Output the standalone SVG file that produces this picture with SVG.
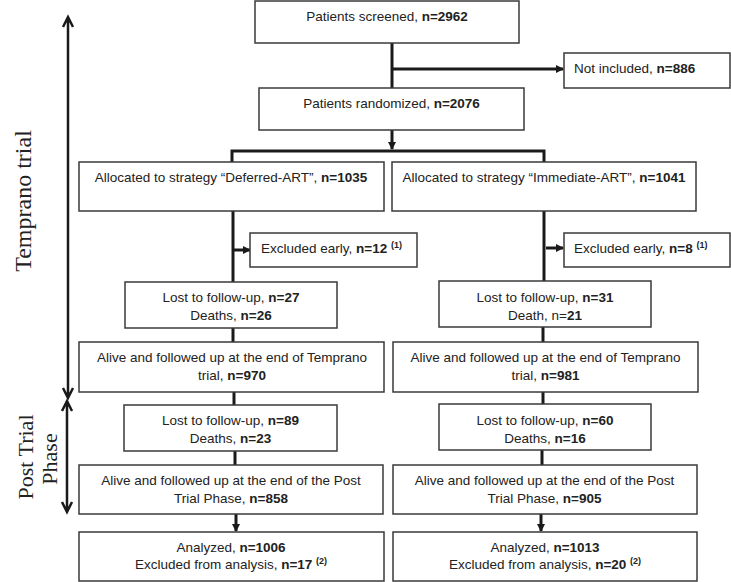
<svg xmlns="http://www.w3.org/2000/svg" width="731" height="582" viewBox="0 0 731 582">
<style>
.box{fill:#fff;stroke:#3a3a3a;stroke-width:1.5}
.t{font-family:"Liberation Sans",Arial,sans-serif;font-size:13.5px;fill:#222}
.c{text-anchor:middle}
.b{font-weight:bold}
.sup{font-size:9px;font-weight:bold}
.lbl{font-family:"Liberation Serif","Times New Roman",serif;fill:#222;text-anchor:middle}
.ln{fill:none;stroke:#1a1a1a;stroke-width:3}
.ax{fill:none;stroke:#1a1a1a;stroke-width:2.5}
</style>
<defs>
<marker id="ah" viewBox="0 0 8 8" refX="7" refY="4" markerWidth="8" markerHeight="8" markerUnits="userSpaceOnUse" orient="auto">
<path d="M0,0 L8,4 L0,8 z" fill="#1a1a1a"/>
</marker>
</defs>

<g id="axis-labels">
<text class="lbl" font-size="24" transform="translate(31,201) rotate(-90)">Temprano trial</text>
<text class="lbl" font-size="22" transform="translate(33,457) rotate(-90)">Post Trial</text>
<text class="lbl" font-size="22" transform="translate(57,459) rotate(-90)">Phase</text>
<path class="ax" d="M68,18 V397 M63,27 L68,17 L73,27 M63,388 L68,398 L73,388"/>
<path class="ax" d="M67,402 V511 M62,411 L67,401 L72,411 M62,502 L67,512 L72,502"/>
</g>

<g id="connectors">
<path class="ln" d="M392,43 V88"/>
<path class="ln" d="M392,69 H563" marker-end="url(#ah)"/>
<path class="ln" d="M392,130 V149" marker-end="url(#ah)"/>
<path class="ln" d="M232,162 V151 H544 V162"/>
<path class="ln" d="M233,211 V282"/>
<path class="ln" d="M233,250 H250" marker-end="url(#ah)"/>
<path class="ln" d="M544,211 V281"/>
<path class="ln" d="M546,248 H563" marker-end="url(#ah)"/>
<path class="ln" d="M233,328 V342"/>
<path class="ln" d="M543,327 V342"/>
<path class="ln" d="M234,392 V405"/>
<path class="ln" d="M543,392 V404"/>
<path class="ln" d="M235,451 V465"/>
<path class="ln" d="M542,450 V465"/>
<path class="ln" d="M236,514 V531" marker-end="url(#ah)"/>
<path class="ln" d="M541,514 V531" marker-end="url(#ah)"/>
</g>

<g id="screened">
<rect class="box" x="255" y="1" width="264" height="42"/>
<text class="t c" x="387" y="20.5">Patients screened, <tspan class="b">n=2962</tspan></text>
</g>
<g id="not-included">
<rect class="box" x="564" y="53" width="166" height="35"/>
<text class="t" x="574" y="72.5">Not included, <tspan class="b">n=886</tspan></text>
</g>
<g id="randomized">
<rect class="box" x="259" y="88" width="265" height="42"/>
<text class="t c" x="391.5" y="108">Patients randomized, <tspan class="b">n=2076</tspan></text>
</g>
<g id="deferred">
<rect class="box" x="79" y="162" width="305" height="49"/>
<text class="t c" x="231" y="181.5">Allocated to strategy “Deferred-ART”, <tspan class="b">n=1035</tspan></text>
</g>
<g id="immediate">
<rect class="box" x="392" y="162" width="304" height="49"/>
<text class="t c" x="544" y="181.5">Allocated to strategy “Immediate-ART”, <tspan class="b">n=1041</tspan></text>
</g>
<g id="excluded-left">
<rect class="box" x="250" y="233" width="167" height="34"/>
<text class="t" x="261" y="253">Excluded early, <tspan class="b">n=12</tspan> <tspan class="sup" dy="-5">(1)</tspan></text>
</g>
<g id="excluded-right">
<rect class="box" x="564" y="233" width="166" height="34"/>
<text class="t" x="574" y="252.5">Excluded early, <tspan class="b">n=8</tspan> <tspan class="sup" dy="-5">(1)</tspan></text>
</g>
<g id="lost-left">
<rect class="box" x="125" y="282" width="212" height="46"/>
<text class="t c" x="231" y="301.5">Lost to follow-up, <tspan class="b">n=27</tspan></text>
<text class="t c" x="231" y="320">Deaths, <tspan class="b">n=26</tspan></text>
</g>
<g id="lost-right">
<rect class="box" x="439" y="281" width="212" height="46"/>
<text class="t c" x="545" y="301.5">Lost to follow-up, <tspan class="b">n=31</tspan></text>
<text class="t c" x="545" y="320">Death, n=<tspan class="b">21</tspan></text>
</g>
<g id="alive-left">
<rect class="box" x="79" y="342" width="305" height="50"/>
<text class="t c" x="232" y="361.5">Alive and followed up at the end of Temprano</text>
<text class="t c" x="232" y="380">trial, <tspan class="b">n=970</tspan></text>
</g>
<g id="alive-right">
<rect class="box" x="393" y="342" width="305" height="50"/>
<text class="t c" x="545.5" y="361.5">Alive and followed up at the end of Temprano</text>
<text class="t c" x="545.5" y="380">trial, <tspan class="b">n=981</tspan></text>
</g>
<g id="post-lost-left">
<rect class="box" x="124" y="405" width="213" height="46"/>
<text class="t c" x="230.5" y="425">Lost to follow-up, <tspan class="b">n=89</tspan></text>
<text class="t c" x="230.5" y="443">Deaths, <tspan class="b">n=23</tspan></text>
</g>
<g id="post-lost-right">
<rect class="box" x="439" y="404" width="212" height="46"/>
<text class="t c" x="545" y="424.5">Lost to follow-up, <tspan class="b">n=60</tspan></text>
<text class="t c" x="545" y="442.5">Deaths, <tspan class="b">n=16</tspan></text>
</g>
<g id="post-alive-left">
<rect class="box" x="79" y="465" width="304" height="49"/>
<text class="t c" x="231" y="485">Alive and followed up at the end of the Post</text>
<text class="t c" x="231" y="503">Trial Phase, <tspan class="b">n=858</tspan></text>
</g>
<g id="post-alive-right">
<rect class="box" x="393" y="465" width="304" height="49"/>
<text class="t c" x="544.5" y="485">Alive and followed up at the end of the Post</text>
<text class="t c" x="544.5" y="503">Trial Phase, <tspan class="b">n=905</tspan></text>
</g>
<g id="analyzed-left">
<rect class="box" x="79" y="532" width="305" height="49"/>
<text class="t c" x="231" y="551.5">Analyzed, <tspan class="b">n=1006</tspan></text>
<text class="t c" x="231" y="569">Excluded from analysis, <tspan class="b">n=17</tspan> <tspan class="sup" dy="-5">(2)</tspan></text>
</g>
<g id="analyzed-right">
<rect class="box" x="393" y="532" width="304" height="49"/>
<text class="t c" x="545" y="551.5">Analyzed, <tspan class="b">n=1013</tspan></text>
<text class="t c" x="545" y="569">Excluded from analysis, <tspan class="b">n=20</tspan> <tspan class="sup" dy="-5">(2)</tspan></text>
</g>
</svg>
